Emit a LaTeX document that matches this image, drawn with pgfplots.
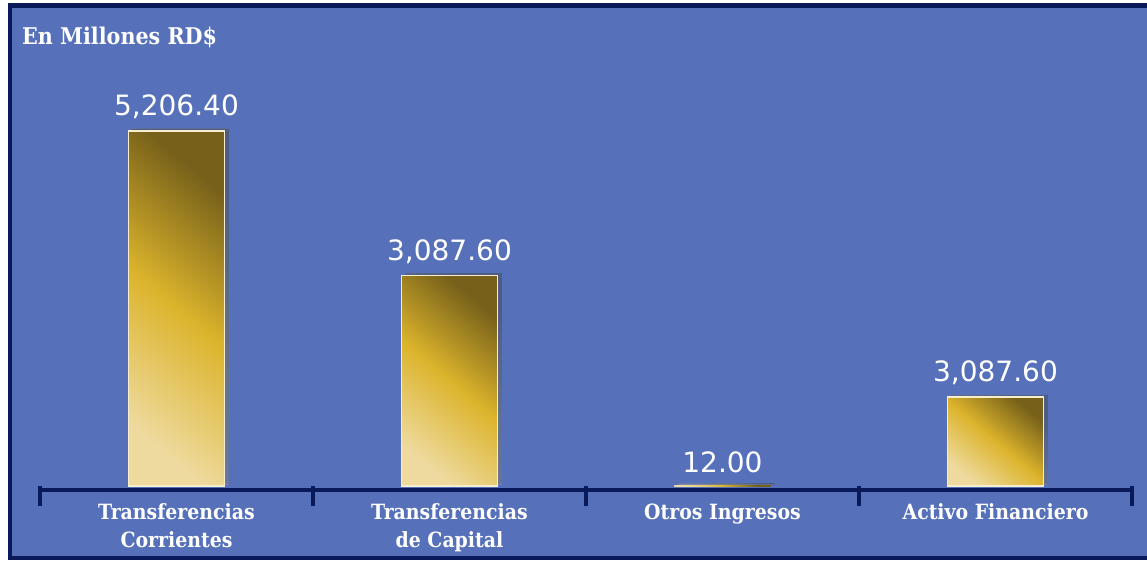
\documentclass[border=0pt]{standalone}
\usepackage{pgfplots}
\pgfplotsset{compat=1.18}
\usepackage{fontspec}
\setmainfont{DejaVu Sans}
\newfontfamily\slab{DejaVu Serif Condensed}
\definecolor{bg}{RGB}{86,113,186}
\definecolor{navy}{RGB}{10,25,90}
\definecolor{golddark}{RGB}{118,96,26}
\definecolor{goldmid}{RGB}{220,180,44}
\definecolor{goldpale}{RGB}{238,218,158}
\definecolor{cream}{RGB}{246,238,205}

\pgfplotsset{goldbar/.style={ybar, bar width=96pt, bar shift=0pt, draw=cream, line width=1.5pt,
  preaction={fill=navy, fill opacity=0.22, draw=none, transform canvas={shift={(4pt,2pt)}}},
  top color=golddark, bottom color=goldpale, middle color=goldmid, shading angle=-40,
  nodes near coords, point meta=explicit symbolic,
  nodes near coords style={text=white, font=\fontsize{28}{30}\selectfont, yshift=8pt}}}

\begin{document}
\begin{tikzpicture}
\fill[white] (0pt,0pt) rectangle (1147pt,563pt);
\filldraw[fill=bg, draw=navy, line width=4.5pt] (10pt,5pt) rectangle (1175pt,557.5pt);
\node[anchor=base west, text=white, inner sep=0pt, font=\slab\bfseries\fontsize{23}{26}\selectfont] at (22pt,518pt) {En Millones RD\$};
\begin{axis}[
  at={(40pt,77pt)}, anchor=south west,
  scale only axis, width=1092pt, height=400pt,
  xmin=-0.5, xmax=3.5, ymin=0, ymax=5866,
  clip=false,
  axis x line*=bottom, axis y line=none, ytick=\empty,
  x axis line style={navy, line width=4.5pt, yshift=-4pt, -},
  xtick={0,1,2,3},
  xticklabels={Transferencias\\Corrientes, Transferencias\\de Capital, Otros Ingresos, Activo Financiero},
  major tick length=0pt,
  minor xtick={-0.5,0.5,1.5,2.5,3.5},
  minor tick length=20pt,
  tick align=outside,
  minor tick style={navy, line width=4pt},
  xticklabel style={text=white, font=\slab\bfseries\fontsize{21}{28}\selectfont, align=center, anchor=north, yshift=-14pt},
]
\addplot[goldbar] coordinates {(0,5206.4) [{5,206.40}]};
\addplot[goldbar] coordinates {(1,3087.6) [{3,087.60}]};
\addplot[goldbar, draw=none, preaction={fill=none}] coordinates {(2,12.0) [{12.00}]};
\addplot[goldbar] coordinates {(3,1305) [{3,087.60}]};
\end{axis}
\pgfresetboundingbox
\path[use as bounding box] (0pt,0pt) rectangle (1147pt,563pt);
\end{tikzpicture}
\end{document}
